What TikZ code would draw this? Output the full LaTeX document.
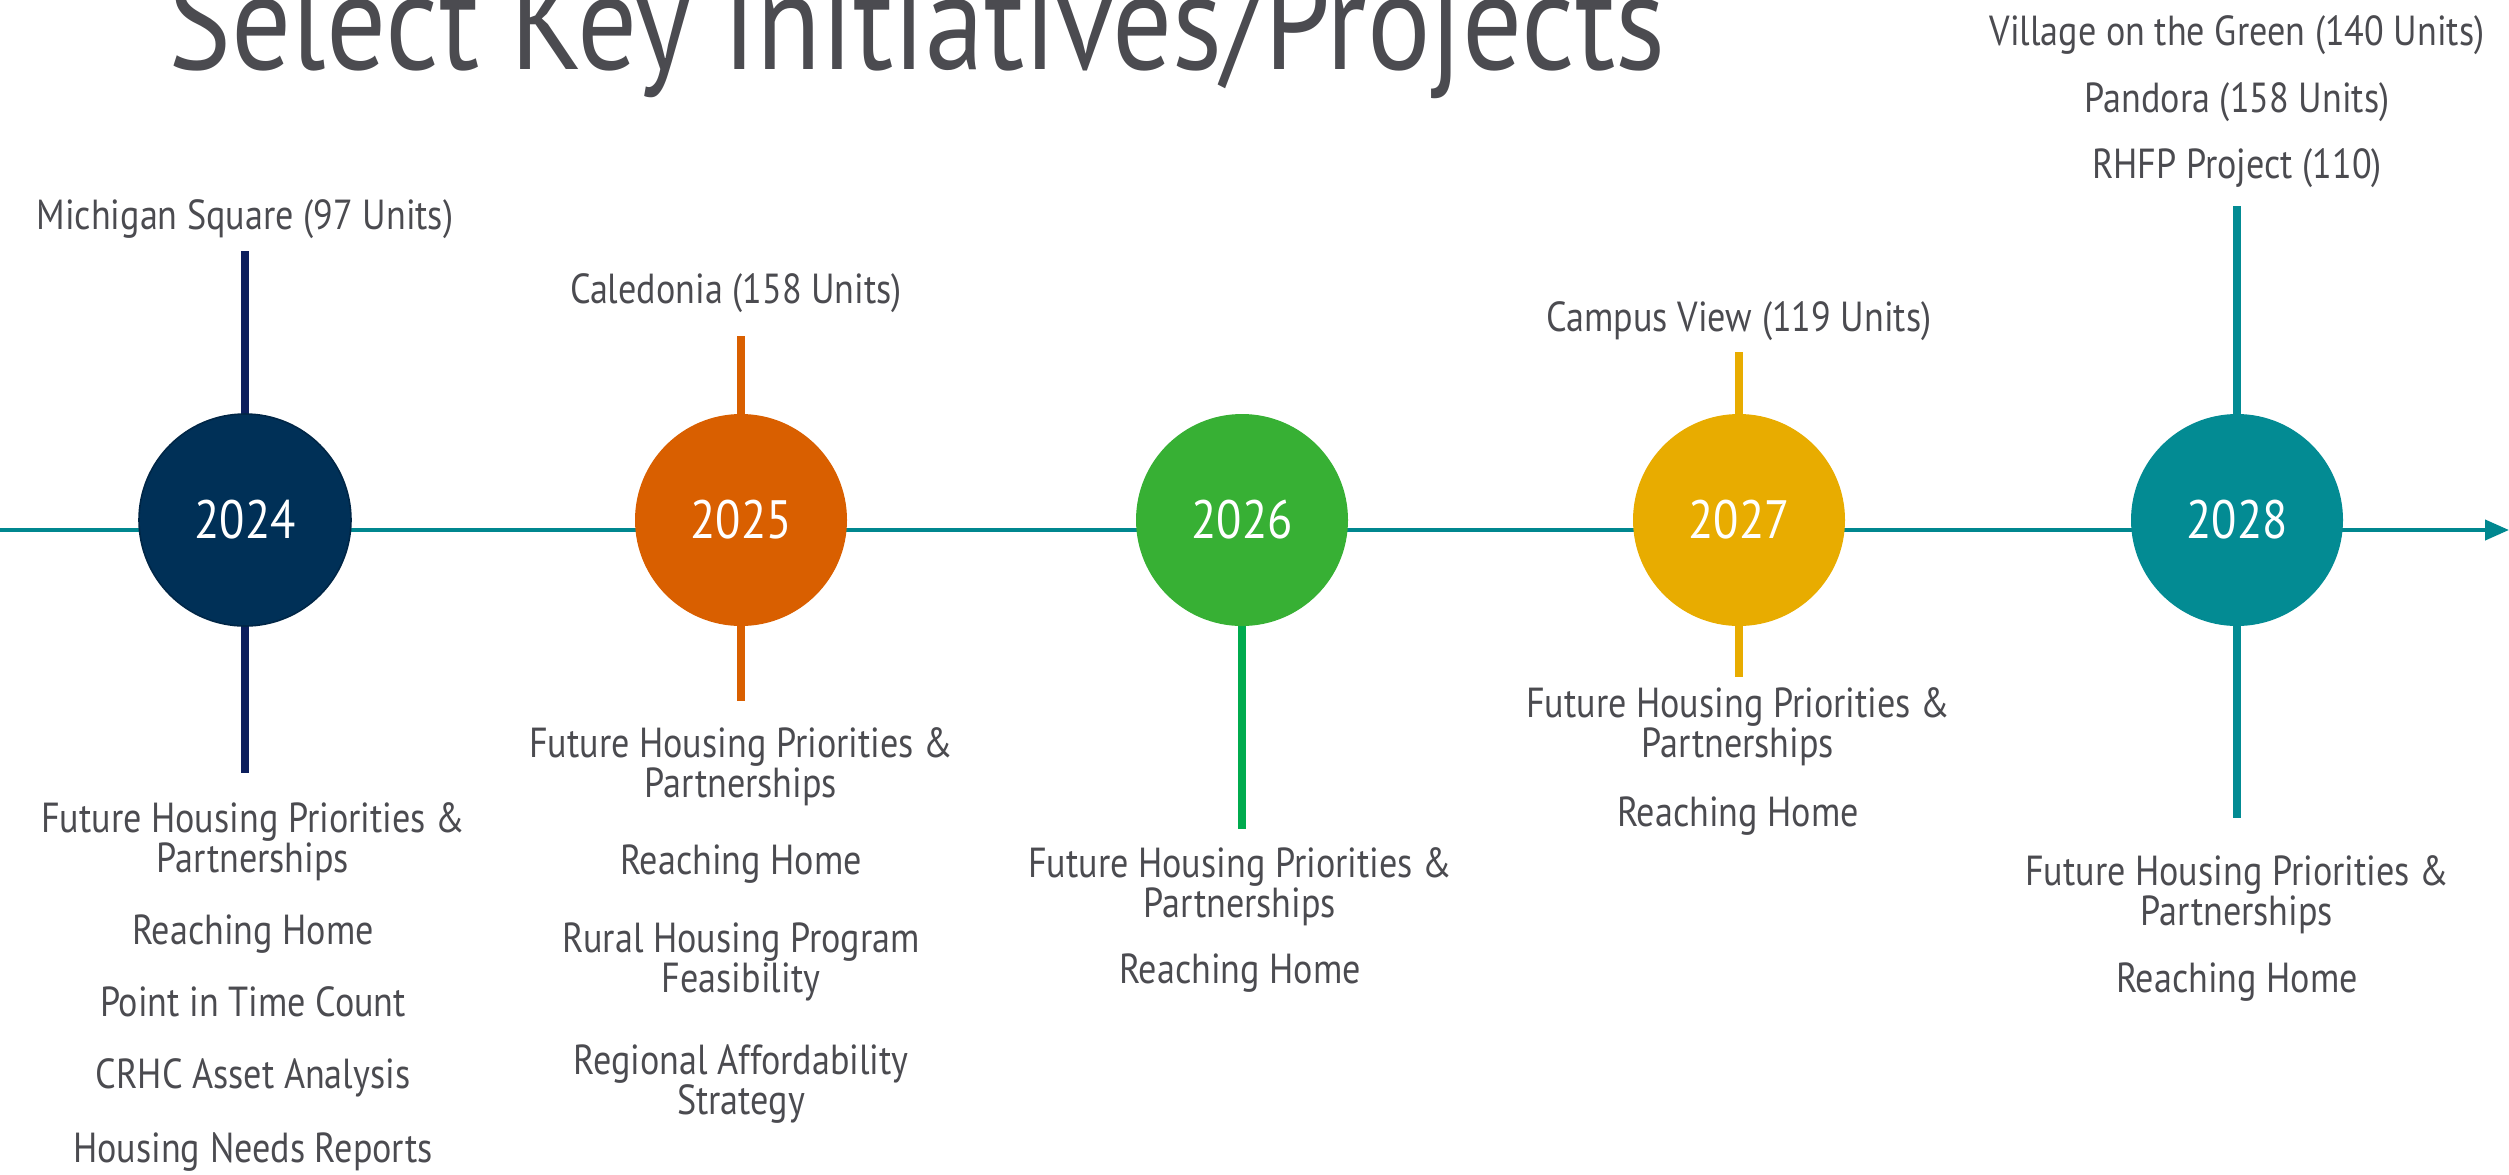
\documentclass[tikz,border=0pt]{standalone}
\usepackage{fontspec}
\setmainfont{PT Sans}[FakeStretch=0.86]
\usetikzlibrary{arrows.meta}
\definecolor{txt}{HTML}{4B4B50}
\definecolor{axis}{HTML}{00878F}
\definecolor{cnavy}{HTML}{003057}
\definecolor{snavy}{HTML}{0C1F5D}
\definecolor{corange}{HTML}{D95F00}
\definecolor{cgreen}{HTML}{37B034}
\definecolor{sgreen}{HTML}{00AB4E}
\definecolor{cyellow}{HTML}{E8AC00}
\definecolor{cteal}{HTML}{038B93}
\tikzset{
  year/.style={circle, minimum size=106pt, inner sep=0pt, text=white,
    font=\fontsize{27}{30}\selectfont},
  lbl/.style={anchor=base, align=center, text=txt, inner sep=0pt,
    font=\fontsize{21}{20}\selectfont},
  stem/.style={line width=4pt},
}
\begin{document}
\begin{tikzpicture}[x=0.5pt,y=-0.5pt]
\useasboundingbox (0,0) rectangle (2509,1174);
% title
\node[anchor=base, text=txt, inner sep=0pt, font=\fontsize{69}{75}\selectfont] (title) at (917,69) {Select Key Initiatives/Projects};
% axis
\coordinate (start) at (0,530);
\coordinate (end) at (2509,530);
\draw[axis, line width=2pt, -{Triangle[length=12pt,width=10pt]}] (start) -- (end);
% stems
\coordinate (t24) at (245,251); \coordinate (b24) at (245,773);
\coordinate (t25) at (741,336); \coordinate (b25) at (741,701);
\coordinate (b26) at (1242,829);
\coordinate (t27) at (1739,352); \coordinate (b27) at (1739,677);
\coordinate (t28) at (2237,206); \coordinate (b28) at (2237,818);
\draw[stem, snavy] (t24) -- (b24);
\draw[stem, corange] (t25) -- (b25);
\draw[stem, sgreen] (1242,520) -- (b26);
\draw[stem, cyellow] (t27) -- (b27);
\draw[stem, cteal] (t28) -- (b28);
% circles
\node[year, fill=cnavy, draw=cnavy!80!black, line width=0.8pt] (c24) at (245,520) {2024};
\node[year, fill=corange] (c25) at (741,520) {2025};
\node[year, fill=cgreen] (c26) at (1242,520) {2026};
\node[year, fill=cyellow] (c27) at (1739,520) {2027};
\node[year, fill=cteal] (c28) at (2237,520) {2028};
% top labels
\node[lbl] (u24) at (245,229) {Michigan Square (97 Units)};
\node[lbl] (u25) at (736,303) {Caledonia (158 Units)};
\node[lbl] (u27) at (1739,331) {Campus View (119 Units)};
\node[lbl] (u28a) at (2237,45) {Village on the Green (140 Units)};
\node[lbl] (u28b) at (2237,112) {Pandora (158 Units)};
\node[lbl] (u28c) at (2237,178) {RHFP Project (110)};
% 2024 bottom (two-line nodes: y is baseline of last line)
\node[lbl] (l24a) at (253,872) {Future Housing Priorities \&\\Partnerships};
\node[lbl] (l24b) at (253,944) {Reaching Home};
\node[lbl] (l24c) at (253,1016) {Point in Time Count};
\node[lbl] (l24d) at (253,1088) {CRHC Asset Analysis};
\node[lbl] (l24e) at (253,1162) {Housing Needs Reports};
% 2025 bottom
\node[lbl] (l25a) at (741,797) {Future Housing Priorities \&\\Partnerships};
\node[lbl] (l25b) at (741,874) {Reaching Home};
\node[lbl] (l25c) at (741,992) {Rural Housing Program\\Feasibility};
\node[lbl] (l25d) at (741,1114) {Regional Affordability\\Strategy};
% 2026 bottom
\node[lbl] (l26a) at (1240,917) {Future Housing Priorities \&\\Partnerships};
\node[lbl] (l26b) at (1240,983) {Reaching Home};
% 2027 bottom
\node[lbl] (l27a) at (1738,757) {Future Housing Priorities \&\\Partnerships};
\node[lbl] (l27b) at (1738,826) {Reaching Home};
% 2028 bottom
\node[lbl] (l28a) at (2237,925) {Future Housing Priorities \&\\Partnerships};
\node[lbl] (l28b) at (2237,992) {Reaching Home};
\end{tikzpicture}
\end{document}
